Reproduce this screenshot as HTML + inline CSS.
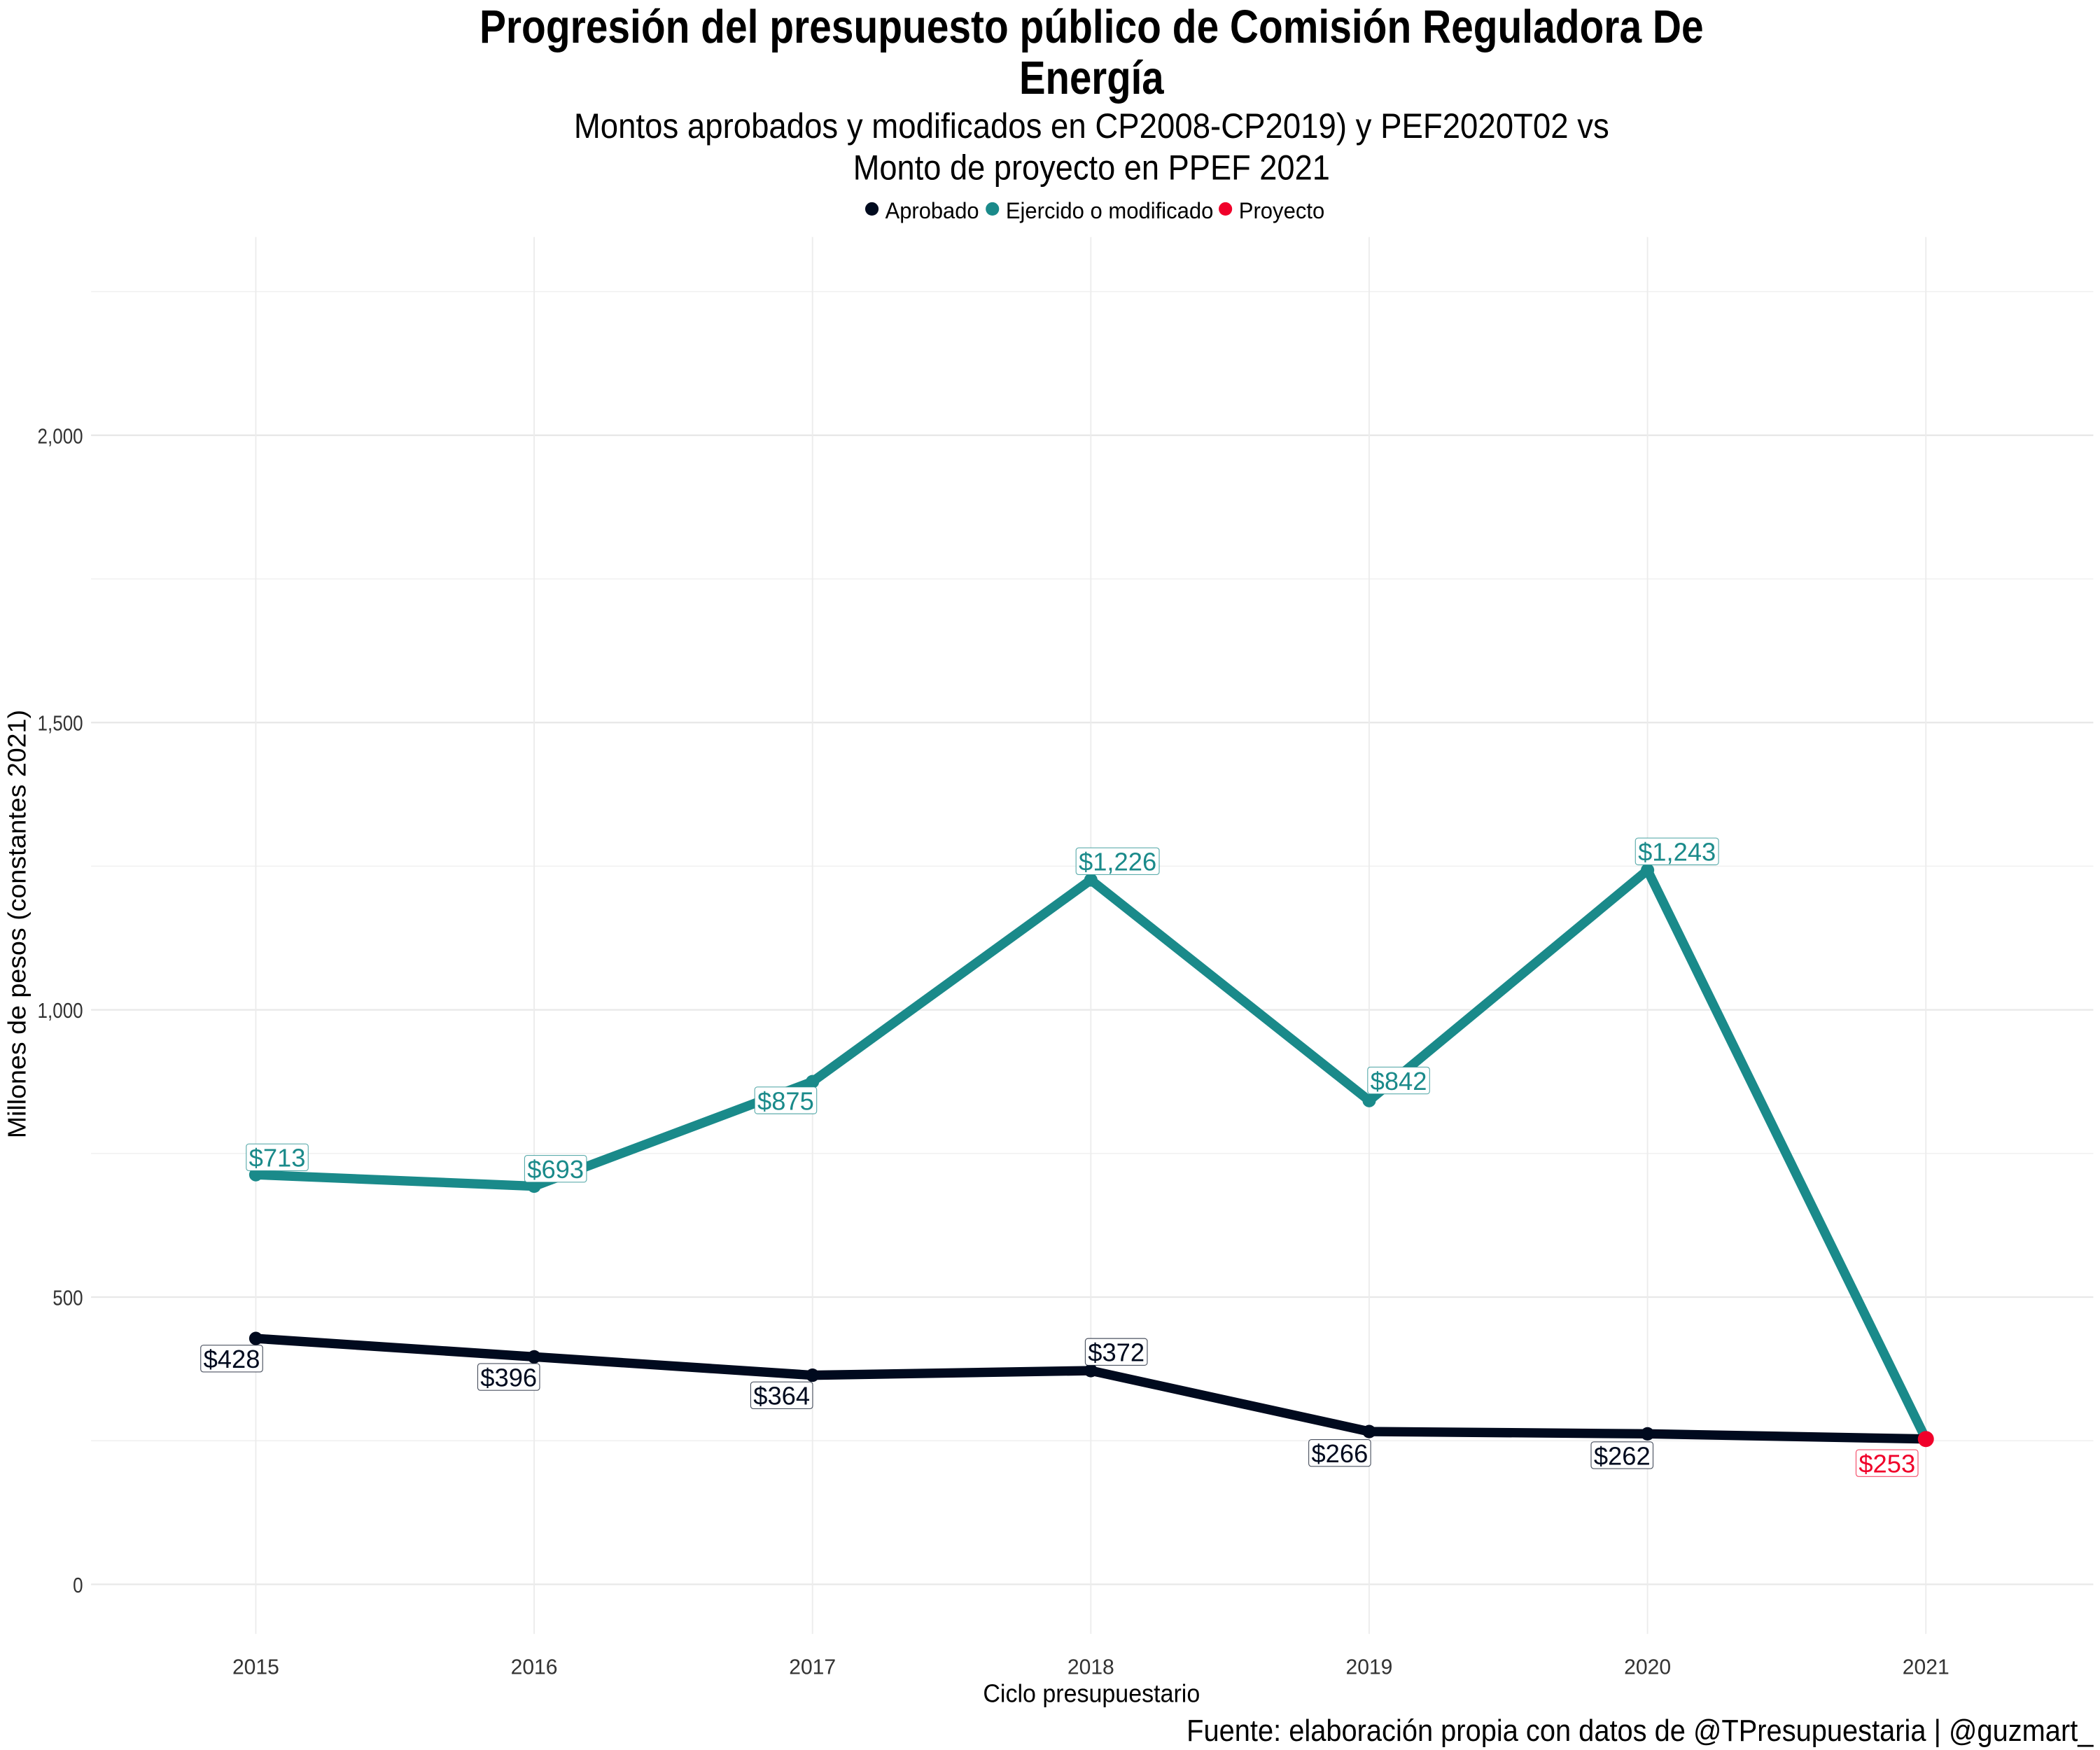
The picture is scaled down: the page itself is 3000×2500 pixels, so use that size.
<!DOCTYPE html>
<html><head><meta charset="utf-8"><style>
html,body{margin:0;padding:0;background:#fff;}
svg{display:block;font-family:"Liberation Sans Narrow","Liberation Sans",sans-serif;}
</style></head><body>
<svg id="chart" width="3000" height="2500" viewBox="0 0 1568 1306.67" xmlns="http://www.w3.org/2000/svg">
<rect width="1568" height="1307" fill="#fff"/>
<text x="815" y="32" text-anchor="middle" font-size="35" font-weight="bold" fill="#000" textLength="914" lengthAdjust="spacingAndGlyphs">Progresión del presupuesto público de Comisión Reguladora De</text>
<text x="815" y="70" text-anchor="middle" font-size="35" font-weight="bold" fill="#000" textLength="108" lengthAdjust="spacingAndGlyphs">Energía</text>
<text x="815" y="103" text-anchor="middle" font-size="26" fill="#000" textLength="773" lengthAdjust="spacingAndGlyphs">Montos aprobados y modificados en CP2008-CP2019) y PEF2020T02 vs</text>
<text x="815" y="134" text-anchor="middle" font-size="26" fill="#000" textLength="356" lengthAdjust="spacingAndGlyphs">Monto de proyecto en PPEF 2021</text>
<g font-size="17">
<circle cx="651" cy="156" r="5" fill="#000a1e"/>
<text x="661" y="163" textLength="70" lengthAdjust="spacingAndGlyphs">Aprobado</text>
<circle cx="741" cy="156" r="5" fill="#1a8a8a"/>
<text x="751" y="163" textLength="155" lengthAdjust="spacingAndGlyphs">Ejercido o modificado</text>
<circle cx="915" cy="156" r="5" fill="#f0002a"/>
<text x="925" y="163" textLength="64" lengthAdjust="spacingAndGlyphs">Proyecto</text>
</g>
<g id="grid"></g>
<g id="marks"></g>
<text transform="translate(19,690) rotate(-90)" text-anchor="middle" font-size="19" fill="#000" textLength="320" lengthAdjust="spacingAndGlyphs">Millones de pesos (constantes 2021)</text>
<text x="815" y="1271" text-anchor="middle" font-size="19" fill="#000" textLength="162" lengthAdjust="spacingAndGlyphs">Ciclo presupuestario</text>
<text x="1563" y="1300" text-anchor="end" font-size="23" fill="#000" textLength="677" lengthAdjust="spacingAndGlyphs">Fuente: elaboración propia con datos de @TPresupuestaria | @guzmart_</text>
</svg>
<script>
const years = [2015,2016,2017,2018,2019,2020,2021];
const aprobado = [428,396,364,372,266,262,253];
const ejercido = [713,693,875,1226,842,1243,253];
const yTicks = [0,500,1000,1500,2000];
const yTickLabels = ["0","500","1,000","1,500","2,000"];
const yMinor = [250,750,1250,1750,2250];

const NS="http://www.w3.org/2000/svg";
const X = y => 191 + (y-2015)*207.83;
const Y = v => 1183 - v*0.429;
const grid=document.getElementById('grid'), marks=document.getElementById('marks');
function mk(tag, attrs, parent){const e=document.createElementNS(NS,tag);for(const k in attrs)e.setAttribute(k,attrs[k]);parent.appendChild(e);return e;}
function fmt(v){return '$'+v.toLocaleString('en-US');}

yMinor.forEach(v=>{const l=mk('line',{x1:68,x2:1563,y1:Y(v),y2:Y(v),stroke:'#f0f0f0','stroke-width':0.8},grid);

});
yTicks.forEach((v,i)=>{const l=mk('line',{x1:68,x2:1563,y1:Y(v),y2:Y(v),stroke:'#e8e8e8','stroke-width':1.2},grid);


const t=mk('text',{x:62,y:Y(v)+6,'text-anchor':'end','font-size':16,fill:'#333',transform:'translate('+(62*0.15)+',0) scale(0.85,1)'},grid);t.textContent=yTickLabels[i];

});
years.forEach(yr=>{const l=mk('line',{x1:X(yr),x2:X(yr),y1:177,y2:1220,stroke:'#ececec','stroke-width':1},grid);


const t=mk('text',{x:X(yr),y:1250,'text-anchor':'middle','font-size':16,fill:'#333',textLength:35,lengthAdjust:'spacingAndGlyphs'},grid);t.textContent=yr;

});

function series(vals,color,name){
  const p=mk('polyline',{points:vals.map((v,i)=>X(years[i])+','+Y(v)).join(' '),fill:'none',stroke:color,'stroke-width':7,'stroke-linejoin':'round'},marks);
  
  
  vals.forEach((v,i)=>{const c=mk('circle',{cx:X(years[i]),cy:Y(v),r:5,fill:color},marks);
  
  });
}
series(ejercido,'#1a8a8a','ejercido');
series(aprobado,'#000a1e','aprobado');
const rp=mk('circle',{cx:X(2021),cy:Y(aprobado[6]),r:6,fill:'#f0002a'},marks);



const ejDx=[16,16,-20,20,22,22], ejDy=[-13,-13,14,-14,-15,-14];
const apDx=[-18,-19,-23,19,-22,-19,-29], apDy=[15,15,15,-14,16,16,18];
function label(x,y,txt,color,name){
  const t=mk('text',{x:x,y:y+7,'text-anchor':'middle','font-size':19,fill:color,'font-family':'"Liberation Sans",sans-serif'},marks);
  t.textContent=txt;
  const w=t.getComputedTextLength();
  const r=mk('rect',{x:x-w/2-2,y:y-10,width:w+4,height:20,rx:2,fill:'#fff',stroke:color,'stroke-width':0.6,'stroke-opacity':0.7},marks);
  marks.insertBefore(r,t);
  
  
  
  
}
ejercido.slice(0,6).forEach((v,i)=>label(X(years[i])+ejDx[i],Y(v)+ejDy[i],fmt(v),'#1a8a8a','ejercido-value-label'));
aprobado.forEach((v,i)=>label(X(years[i])+apDx[i],Y(v)+apDy[i],fmt(v),i==6?'#f0002a':'#000a1e',i==6?'proyecto-value-label':'aprobado-value-label'));
</script>
</body></html>
